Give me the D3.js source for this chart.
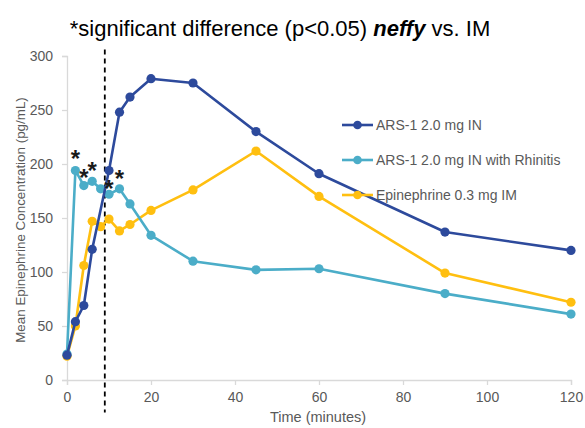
<!DOCTYPE html>
<html>
<head>
<meta charset="utf-8">
<script src="https://cdn.jsdelivr.net/npm/d3@7"></script>
<style>
  html, body { margin: 0; padding: 0; background: #fff; }
  svg { display: block; font-family: "Liberation Sans", Arial, sans-serif; }
</style>
</head>
<body>
<svg id="chart" width="585" height="428"></svg>
<script>
// Sampling times (minutes) and mean plasma epinephrine (pg/mL)
const timesIN = [0, 2, 4, 6, 10, 12.5, 15, 20, 30, 45, 60, 90, 120];
const valuesIN = [23, 54, 69, 121, 194, 248, 262, 279, 275, 230, 191, 137, 120];

const timesRhinitis = [0, 2, 4, 6, 8, 10, 12.5, 15, 20, 30, 45, 60, 90, 120];
const valuesRhinitis = [24, 194, 180, 184, 177, 172, 177, 163, 134, 110, 102, 103, 80, 61];

const timesIM = [0, 2, 4, 6, 8, 10, 12.5, 15, 20, 30, 45, 60, 90, 120];
const valuesIM = [22, 50, 106, 147, 142, 149, 138, 144, 157, 176, 212, 170, 99, 72];

const seriesNames = ["ARS-1 2.0 mg IN", "ARS-1 2.0 mg IN with Rhinitis", "Epinephrine 0.3 mg IM"];
const seriesColors = ["#2D4A9C", "#4BADC8", "#FFBF10"];

const xTicks = [0, 20, 40, 60, 80, 100, 120];
const yTicks = [0, 50, 100, 150, 200, 250, 300];

// Significance markers (time, concentration level where the asterisk sits)
const sigTimes = [2, 4, 6, 10, 12.5];
const sigLevels = [210, 193, 199, 182, 192];

// Vertical reference line time (minutes)
const refTime = 9;

const series = seriesNames.map((name, i) => {
  const t = [timesIN, timesRhinitis, timesIM][i];
  const v = [valuesIN, valuesRhinitis, valuesIM][i];
  return { name, color: seriesColors[i], points: t.map((d, j) => ({ t: d, v: v[j] })) };
});

const svg = d3.select("#chart");
const x = d3.scaleLinear().domain([0, 120]).range([67, 571]);
const y = d3.scaleLinear().domain([0, 300]).range([380, 56]);

const grey = "#595959";
const axisGrey = "#D9D9D9";

// Y axis
const yAxis = svg.append("g").attr("transform", `translate(${x(0)},0)`)
  .call(d3.axisLeft(y).tickValues(yTicks).tickSize(5).tickPadding(9));
// X axis
const xAxis = svg.append("g").attr("transform", `translate(0,${y(0)})`)
  .call(d3.axisBottom(x).tickValues(xTicks).tickSize(5).tickPadding(7));

[yAxis, xAxis].forEach(g => {
  g.select(".domain").attr("stroke", axisGrey).attr("stroke-width", 1.3);
  g.selectAll(".tick line").attr("stroke", axisGrey).attr("stroke-width", 1.3);
  g.selectAll(".tick text").attr("fill", grey).attr("font-size", 14)
    .attr("font-family", "Liberation Sans, Arial, sans-serif");
});

// Axis titles
svg.append("text")
  .attr("x", 318).attr("y", 421.5)
  .attr("text-anchor", "middle").attr("fill", grey).attr("font-size", 14.5)
  .text("Time (minutes)");

svg.append("text")
  .attr("transform", `translate(24.5,220) rotate(-90)`)
  .attr("text-anchor", "middle").attr("fill", grey).attr("font-size", 13.4)
  .text("Mean Epinephrine Concentration (pg/mL)");

// Title
const title = svg.append("text")
  .attr("x", 280).attr("y", 36)
  .attr("text-anchor", "middle").attr("fill", "#000").attr("font-size", 22);
title.append("tspan").text("*significant difference (p<0.05) ");
title.append("tspan").attr("font-weight", "bold").attr("font-style", "italic").text("neffy");
title.append("tspan").text(" vs. IM");

// Dashed reference line
svg.append("line")
  .attr("x1", x(refTime)).attr("x2", x(refTime))
  .attr("y1", y(306)).attr("y2", y(-30))
  .attr("stroke", "#000").attr("stroke-width", 1.8).attr("stroke-dasharray", "5,4");

// Series lines and markers (drawn in reverse so IN sits on top)
const line = d3.line().x(d => x(d.t)).y(d => y(d.v));
[2, 1, 0].forEach(i => {
  const s = series[i];
  const g = svg.append("g");
  g.append("path").datum(s.points)
    .attr("d", line).attr("fill", "none")
    .attr("stroke", s.color).attr("stroke-width", 2.6).attr("stroke-linejoin", "round");
  g.selectAll("circle").data(s.points).join("circle")
    .attr("cx", d => x(d.t)).attr("cy", d => y(d.v)).attr("r", 4.6)
    .attr("fill", s.color);
});

// Significance asterisks
svg.selectAll(".sig").data(sigTimes).join("text")
  .attr("class", "sig")
  .attr("x", d => x(d)).attr("y", (d, i) => y(sigLevels[i]) + 14)
  .attr("text-anchor", "middle").attr("font-size", 24).attr("font-weight", "bold")
  .attr("fill", "#1a1a1a").text("*");

// Legend
const legend = svg.append("g");
series.forEach((s, i) => {
  const ly = 125 + i * 35;
  legend.append("line").attr("x1", 342).attr("x2", 373).attr("y1", ly).attr("y2", ly)
    .attr("stroke", s.color).attr("stroke-width", 2.6);
  legend.append("circle").attr("cx", 357.5).attr("cy", ly).attr("r", 4.3).attr("fill", s.color);
  legend.append("text").attr("x", 376).attr("y", ly + 5)
    .attr("fill", grey).attr("font-size", 14).text(s.name);
});
</script>
</body>
</html>
